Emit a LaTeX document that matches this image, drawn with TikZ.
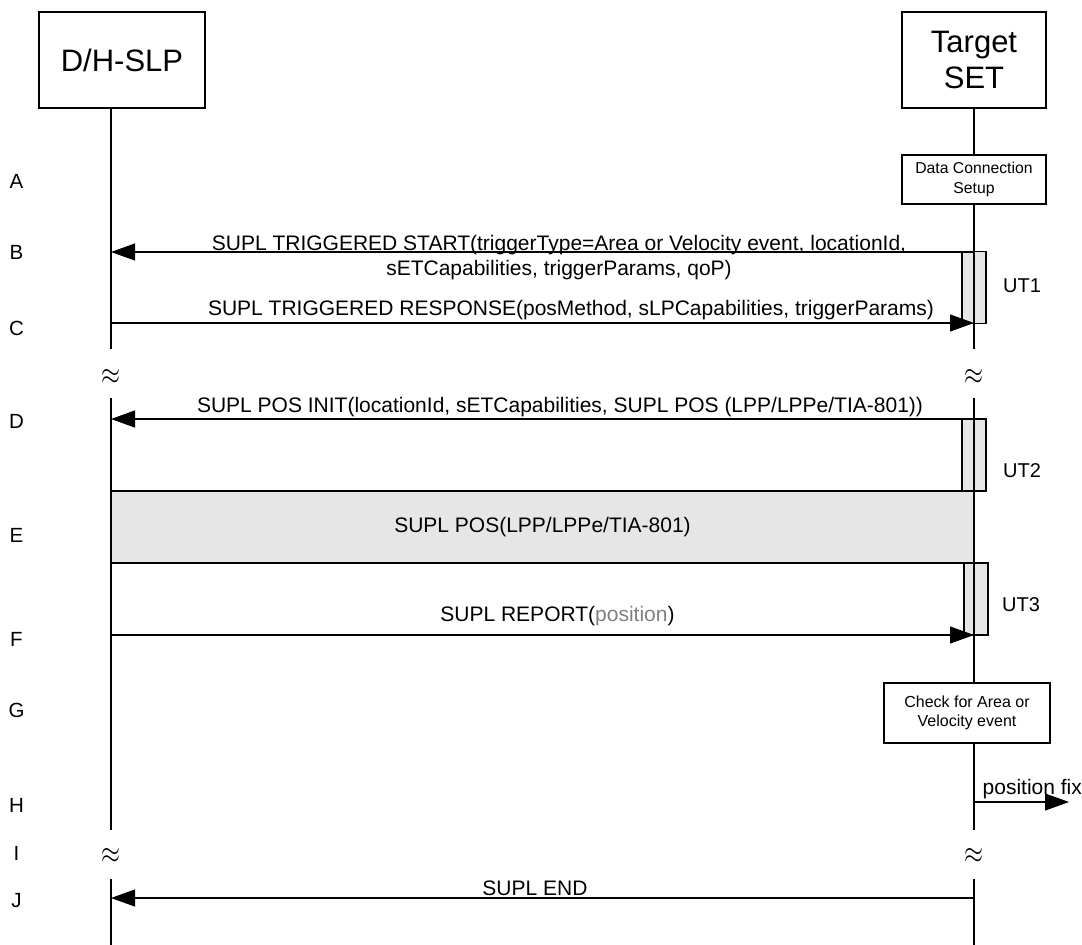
\documentclass[tikz,border=0pt]{standalone}
\usepackage{fontspec}
\setmainfont{Liberation Sans}
\usetikzlibrary{arrows.meta}
\definecolor{actgray}{HTML}{E6E6E6}
\definecolor{txtgray}{HTML}{808080}
\newcommand{\brksym}{\resizebox{19pt}{15pt}{$\approx$}}
\begin{document}
\begin{tikzpicture}[x=1pt,y=-1pt,
  every node/.style={inner sep=0pt, outer sep=0pt},
  lifeline/.style={line width=1.1pt},
  entity/.style={draw, line width=1.1pt, fill=white, align=center, font=\fontsize{31}{35.6}\selectfont},
  smallbox/.style={draw, line width=1.1pt, fill=white, align=center, font=\fontsize{16}{19.5}\selectfont},
  actbox/.style={draw, line width=1.1pt, fill=actgray, minimum width=24pt},
  msg/.style={line width=1.1pt, -{Triangle[length=24pt,width=17pt]}},
  msgtext/.style={font=\fontsize{21}{25}\selectfont, anchor=base},
  steplabel/.style={font=\fontsize{20.5}{24}\selectfont, anchor=base},
  utlabel/.style={font=\fontsize{20}{24}\selectfont},
  brk/.style={}
]
\useasboundingbox (0,0) rectangle (1082,945);

% shaded procedure box and activation boxes
\node[draw, line width=1.1pt, fill=actgray, minimum width=863pt, minimum height=72pt,
      font=\fontsize{21}{25}\selectfont] (posbox) at (542.5,527) {SUPL POS(LPP/LPPe/TIA-801)};
\node[actbox, minimum height=71.5pt] (ut1) at (974,287.5) {};
\node[actbox, minimum height=72pt] (ut2) at (974,455) {};
\node[actbox, minimum height=72pt] (ut3) at (976,599) {};

% entities and boxes
\node[entity, minimum width=166pt, minimum height=96pt] (slp) at (122,60) {D/H-SLP};
\node[entity, minimum width=144pt, minimum height=96pt] (set) at (974,60) {Target\\SET};
\node[smallbox, minimum width=144pt, minimum height=49pt, font=\fontsize{15.75}{19.3}\selectfont] (dcs) at (974,179.5) {Data Connection\\Setup};
\node[smallbox, minimum width=166pt, minimum height=60pt] (chk) at (967,713) {Check for Area or\\Velocity event};

% lifeline coordinates
\coordinate (l0) at (111,108);
\coordinate (l1) at (111,349);
\coordinate (l2) at (111,398);
\coordinate (l3) at (111,830);
\coordinate (l4) at (111,879);
\coordinate (l5) at (111,945);
\coordinate (r1) at (974,349);
\coordinate (r2) at (974,398);
\coordinate (r3) at (974,830);
\coordinate (r4) at (974,879);
\coordinate (r5) at (974,945);

\draw[lifeline] (l0) -- (l1);
\draw[lifeline] (l2) -- (l3);
\draw[lifeline] (l4) -- (l5);
\draw[lifeline] (set.south) -- (dcs.north);
\draw[lifeline] (dcs.south) -- (r1);
\draw[lifeline] (r2) -- (r2 |- chk.north);
\draw[lifeline] (r2 |- chk.south) -- (r3);
\draw[lifeline] (r4) -- (r5);

% breaks
\node[brk] (bk1) at (111,376.7) {\brksym};
\node[brk] (bk2) at (974,376.7) {\brksym};
\node[brk] (bk3) at (111,856) {\brksym};
\node[brk] (bk4) at (974,856) {\brksym};

% message end points
\coordinate (bS) at (974,252);   \coordinate (bT) at (111,252);
\coordinate (cS) at (111,323);   \coordinate (cT) at (974,323);
\coordinate (dS) at (974,419);   \coordinate (dT) at (111,419);
\coordinate (fS) at (111,635);   \coordinate (fT) at (974,635);
\coordinate (hS) at (974,802);   \coordinate (hT) at (1069,802);
\coordinate (jS) at (974,898);   \coordinate (jT) at (111,898);

\draw[msg] (bS) -- (bT);
\draw[msg] (cS) -- (cT);
\draw[msg] (dS) -- (dT);
\draw[msg] (fS) -- (fT);
\draw[msg] (hS) -- (hT);
\draw[msg] (jS) -- (jT);

% message texts
\node[msgtext] (tb1) at (559,250) {SUPL TRIGGERED START(triggerType=Area or Velocity event, locationId,};
\node[msgtext] (tb2) at (559,275.8) {sETCapabilities, triggerParams, qoP)};
\node[msgtext] (tc) at (571,315.5) {SUPL TRIGGERED RESPONSE(posMethod, sLPCapabilities, triggerParams)};
\node[msgtext] (td) at (560,412.5) {SUPL POS INIT(locationId, sETCapabilities, SUPL POS (LPP/LPPe/TIA-801))};
\node[msgtext] (tf) at (557.5,621) {SUPL REPORT(\textcolor{txtgray}{position})};
\node[msgtext, anchor=base west] (th) at (982.7,794) {position fix};
\node[msgtext] (tj) at (535,895) {SUPL END};

% timer labels
\node[utlabel] (u1) at (1022,286) {UT1};
\node[utlabel] (u2) at (1022,471) {UT2};
\node[utlabel] (u3) at (1021,605) {UT3};

% step labels
\node[steplabel] (sA) at (16.5,188) {A};
\node[steplabel] (sB) at (16.5,259) {B};
\node[steplabel] (sC) at (16.5,335.6) {C};
\node[steplabel] (sD) at (16.5,428) {D};
\node[steplabel] (sE) at (16.5,542.2) {E};
\node[steplabel] (sF) at (16.5,646.3) {F};
\node[steplabel] (sG) at (16.5,717.7) {G};
\node[steplabel] (sH) at (16.5,812.3) {H};
\node[steplabel] (sI) at (16.5,860.2) {I};
\node[steplabel] (sJ) at (16.5,907.8) {J};
\end{tikzpicture}
\end{document}
